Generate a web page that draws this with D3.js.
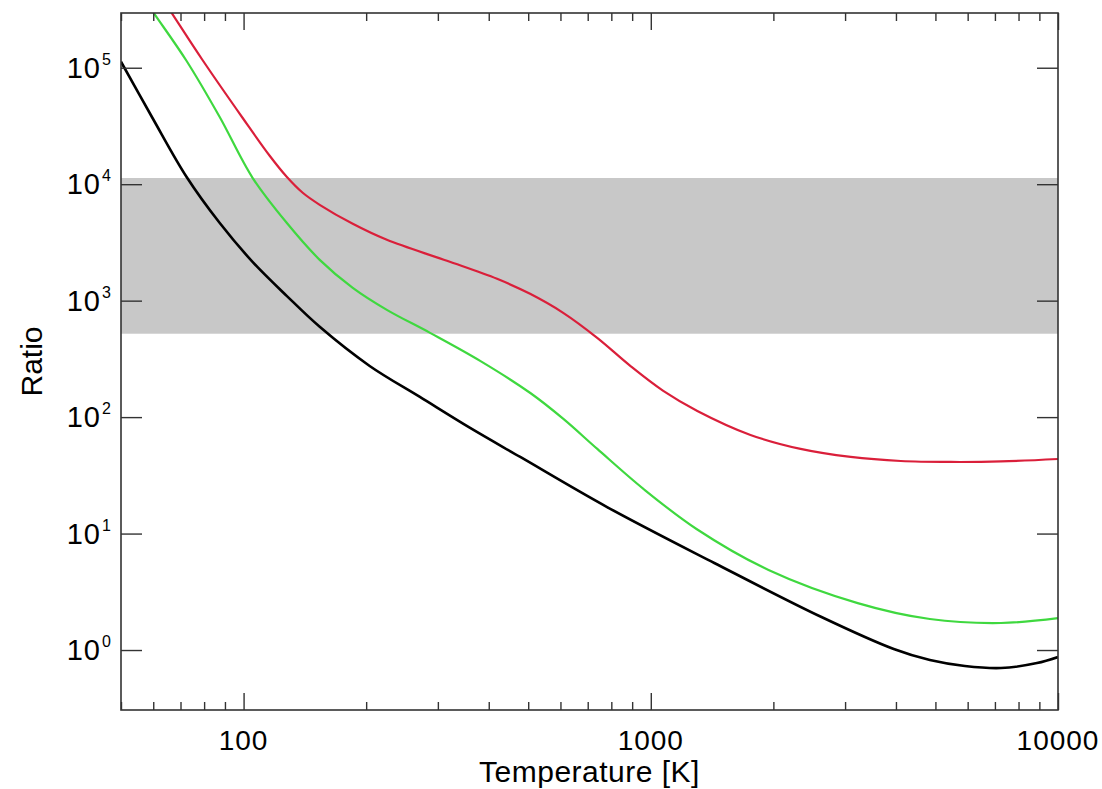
<!DOCTYPE html>
<html><head><meta charset="utf-8">
<script src="https://cdn.jsdelivr.net/npm/d3@7"></script>
<style>body{margin:0;background:#fff}svg text{font-family:"Liberation Sans",Arial,Helvetica,sans-serif;fill:#000}</style>
</head><body><svg id="c" width="1102" height="789"></svg>
<script>
// ---- data ----
const xMajorTicks = [100, 1000, 10000];
const xMinorTicks = [50, 60, 70, 80, 90, 200, 300, 400, 500, 600, 700, 800, 900, 2000, 3000, 4000, 5000, 6000, 7000, 8000, 9000];
const xTickLabels = ["100", "1000", "10000"];
const yMajorTicks = [1, 10, 100, 1000, 10000, 100000];
const yTickExponents = ["0", "1", "2", "3", "4", "5"];
const bandRange = [520, 11300];

const blackT = [50, 59.7, 72.4, 87.3, 105.2, 127.6, 153.8, 204, 271, 360, 478, 781, 1432, 2625, 3950, 4846, 5906, 7244, 8879, 10000];
const blackR = [1.126e5, 3.72e4, 1.158e4, 4660, 2154, 1100, 596, 275, 149, 80.8, 45.5, 16.9, 5.59, 1.92, 1.02, 0.82, 0.729, 0.70, 0.773, 0.871];

const greenT = [50, 59.4, 72.4, 87.3, 105.2, 127.6, 153.8, 185.4, 224.8, 287, 381, 506, 610, 739, 959, 1295, 1946, 3222, 4846, 7244, 10000];
const greenR = [7.67e5, 3.15e5, 1.148e5, 3.79e4, 1.135e4, 4660, 2241, 1288, 834, 529, 304, 161, 96.5, 53.3, 24.2, 10.95, 4.87, 2.53, 1.846, 1.706, 1.88];

const redT = [50, 65.8, 79.2, 99.4, 115.9, 127.6, 139.7, 153.8, 185.4, 224.8, 315.8, 419.2, 505.3, 609.3, 738.6, 890.4, 1073, 1301, 1757, 2332, 3096, 4110, 5455, 7240, 10000];
const redR = [1.375e6, 3.15e5, 1.171e5, 3.72e4, 1.754e4, 1.158e4, 8440, 6653, 4569, 3330, 2198, 1539, 1144, 785.6, 479, 275.4, 168, 113, 70.3, 53.3, 45.5, 42.0, 41.2, 41.6, 43.7];

const xLabel = "Temperature [K]";
const yLabel = "Ratio";

// ---- layout ----
const L = 121, R = 1058, T = 13, B = 710;
const svg = d3.select("#c");
const x = d3.scaleLog().domain([50, 10000]).range([L, R]);
const y = d3.scaleLog().domain([Math.pow(10, -0.515), Math.pow(10, 5.47)]).range([B, T]);

svg.append("defs").append("clipPath").attr("id", "clip")
  .append("rect").attr("x", L).attr("y", T).attr("width", R - L).attr("height", B - T);

// band
svg.append("rect")
  .attr("x", L).attr("width", R - L)
  .attr("y", y(bandRange[1])).attr("height", y(bandRange[0]) - y(bandRange[1]))
  .attr("fill", "#c8c8c8");

const line = d3.line().x(d => x(d[0])).y(d => y(d[1])).curve(d3.curveCatmullRom.alpha(0.5));
const series = [
  {t: blackT, r: blackR, c: "#000000", w: 2.6},
  {t: greenT, r: greenR, c: "#3fd83f", w: 2.2},
  {t: redT, r: redR, c: "#da1f3a", w: 2.2}
];
const g = svg.append("g").attr("clip-path", "url(#clip)");
series.forEach(s => {
  g.append("path").datum(s.t.map((t, i) => [t, s.r[i]]))
    .attr("d", line).attr("fill", "none")
    .attr("stroke", s.c).attr("stroke-width", s.w).attr("stroke-linejoin", "round");
});

// axes frame
const axisColor = "#333";
const axB = d3.axisBottom(x).tickValues(xMajorTicks).tickSize(-17).tickFormat("");
const axBm = d3.axisBottom(x).tickValues(xMinorTicks).tickSize(-8).tickFormat("");
const axT = d3.axisTop(x).tickValues(xMajorTicks).tickSize(-17).tickFormat("");
const axTm = d3.axisTop(x).tickValues(xMinorTicks).tickSize(-8).tickFormat("");
const axL = d3.axisLeft(y).tickValues(yMajorTicks).tickSize(-21).tickFormat("");
const axR = d3.axisRight(y).tickValues(yMajorTicks).tickSize(-21).tickFormat("");
function styleAxis(sel) {
  sel.select(".domain").remove();
  sel.selectAll("line").attr("stroke", axisColor).attr("stroke-width", 1.4);
}
svg.append("g").attr("transform", `translate(0,${B})`).call(axB).call(styleAxis);
svg.append("g").attr("transform", `translate(0,${B})`).call(axBm).call(styleAxis);
svg.append("g").attr("transform", `translate(0,${T})`).call(axT).call(styleAxis);
svg.append("g").attr("transform", `translate(0,${T})`).call(axTm).call(styleAxis);
svg.append("g").attr("transform", `translate(${L},0)`).call(axL).call(styleAxis);
svg.append("g").attr("transform", `translate(${R},0)`).call(axR).call(styleAxis);
svg.append("rect").attr("x", L).attr("y", T).attr("width", R - L).attr("height", B - T)
  .attr("fill", "none").attr("stroke", axisColor).attr("stroke-width", 1.6);

// x tick labels
svg.selectAll(".xl").data(xMajorTicks).enter().append("text")
  .attr("x", d => x(d)).attr("y", 750).attr("text-anchor", "middle")
  .attr("font-size", 28).attr("letter-spacing", 1)
  .text((d, i) => xTickLabels[i]);

// y tick labels
yMajorTicks.forEach((v, i) => {
  svg.append("text").attr("x", 101).attr("y", y(v) + 10).attr("text-anchor", "end")
    .attr("font-size", 29).attr("letter-spacing", 1).text("10");
  svg.append("text").attr("x", 102).attr("y", y(v) - 3).attr("text-anchor", "start")
    .attr("font-size", 16).text(yTickExponents[i]);
});

// axis titles
svg.append("text").attr("x", (L + R) / 2).attr("y", 782).attr("text-anchor", "middle")
  .attr("font-size", 30).attr("letter-spacing", 0.5).text(xLabel);
svg.append("text").attr("transform", `translate(42,${(T + B) / 2}) rotate(-90)`)
  .attr("text-anchor", "middle").attr("font-size", 30).text(yLabel);
</script>
</body></html>
